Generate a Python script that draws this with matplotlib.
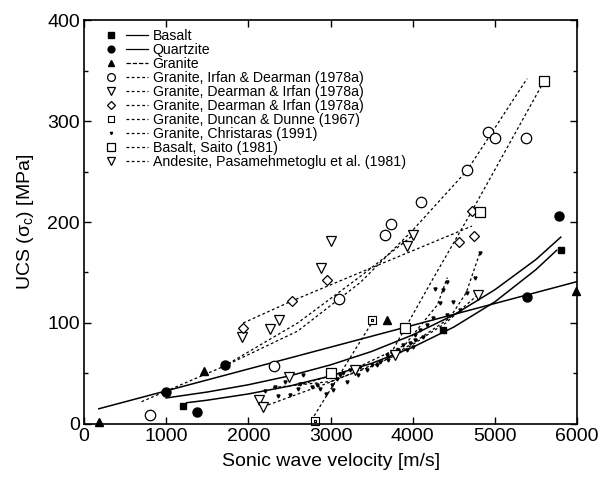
import matplotlib
matplotlib.use("Agg")
import matplotlib.pyplot as plt
from matplotlib.lines import Line2D
from matplotlib.legend_handler import HandlerTuple
from matplotlib.markers import MarkerStyle
from matplotlib.path import Path
from matplotlib.ticker import MultipleLocator

plt.rcParams['font.family'] = ['Liberation Sans', 'DejaVu Sans']
plt.rcParams['mathtext.fontset'] = 'custom'
plt.rcParams['mathtext.rm'] = 'Liberation Sans'

# --- data (velocity m/s, UCS MPa) ---
basalt_v = [1200, 4370, 5800]
basalt_ucs = [18, 93, 172]
quartzite_v = [1000, 1370, 1710, 5390, 5780]
quartzite_ucs = [32, 12, 58, 126, 206]
granite_v = [180, 1460, 3690, 5990]
granite_ucs = [2, 52, 103, 132]

# fitted curves
basalt_fit_v = [1250, 1500, 2000, 2500, 3000, 3500, 4000, 4500, 5000, 5500, 5750]
basalt_fit_ucs = [21, 23.5, 29.7, 37.5, 47.5, 60, 76, 96, 121, 153, 172]
quartzite_fit_v = [1000, 1500, 2000, 2500, 3000, 3500, 4000, 4500, 5000, 5500, 5800]
quartzite_fit_ucs = [25.7, 31.6, 38.8, 47.6, 58.5, 71.8, 88.2, 108, 133, 163, 185]
granite_fit_v = [180, 6000]
granite_fit_ucs = [15, 141]

irfan_v = [800, 2310, 3100, 3660, 3735, 4100, 4660, 4915, 5000, 5380]
irfan_ucs = [9, 57, 124, 187, 198, 220, 252, 289, 283, 283]
irfan_line_v = [700, 1700, 2600, 3360, 4000, 4660, 5390]
irfan_line_ucs = [22, 57, 92, 140, 192, 251, 342]

dearman_tri_v = [1920, 2260, 2370, 2880, 3005, 3930, 4000]
dearman_tri_ucs = [86, 94, 103, 154, 181, 176, 187]
dearman_tri_line_v = [1700, 2600, 3360, 3990]
dearman_tri_line_ucs = [57, 100, 146, 186]

diamond_v = [1937, 2535, 2960, 4560, 4746, 4722]
diamond_ucs = [95, 122, 143, 180, 186, 211]
diamond_line_v = [1937, 2535, 3360, 4720]
diamond_line_ucs = [100, 122, 150, 196]

duncan_v = [2810, 3500]
duncan_ucs = [3, 103]
duncan_line_v = [2800, 3500]
duncan_line_ucs = [8, 100]

christaras_v = [2323, 2360, 2506, 2628, 2664, 2603, 2773, 2835, 2871, 3017,
                3029, 3078, 3114, 3151, 3236, 3297, 3333, 3358, 3443, 3503,
                3564, 3600, 3686, 3747, 3820, 3880, 3929, 3965, 4027, 4002,
                4818, 4416, 4368, 4270, 4330, 4660, 4757, 4489, 4574, 4246,
                4416, 4173, 4088, 4027, 4124, 2200, 2450, 2950, 3200, 3700]
christaras_ucs = [37, 28, 29, 40, 48, 35, 37, 39, 35, 39,
                  34, 44, 48, 50, 53, 55, 48, 56, 53, 58,
                  58, 61, 68, 70, 73, 78, 73, 80, 83, 76,
                  169, 141, 133, 134, 120, 130, 145, 121, 113, 105,
                  108, 98, 93, 88, 86, 33, 42, 30, 42, 63]
christaras_line1_v = [2300, 3000, 3600, 4000, 4450, 4650, 4818]
christaras_line1_ucs = [36, 42, 60, 80, 105, 130, 170]
christaras_line2_v = [2600, 3300, 3900, 4300, 4420]
christaras_line2_ucs = [38, 55, 78, 118, 145]

saito_v = [3000, 3905, 4818, 5600]
saito_ucs = [50, 95, 210, 340]
saito_line_v = [3700, 4240, 4720, 5600]
saito_line_ucs = [65, 143, 211, 340]

andesite_v = [2130, 2180, 2494, 3297, 3783, 4793]
andesite_ucs = [24, 17, 46, 53, 68, 128]
andesite_line_v = [2180, 2950, 3800, 4400, 4793]
andesite_line_ucs = [17, 40, 68, 100, 128]

labels = ['Basalt', 'Quartzite', 'Granite',
          'Granite, Irfan & Dearman (1978a)',
          'Granite, Dearman & Irfan (1978a)',
          'Granite, Dearman & Irfan (1978a)',
          'Granite, Duncan & Dunne (1967)',
          'Granite, Christaras (1991)',
          'Basalt, Saito (1981)',
          'Andesite, Pasamehmetoglu et al. (1981)']

# square with a dot inside
dot_square = Path([(-1, -1), (1, -1), (1, 1), (-1, 1), (-1, -1),
                   (-0.15, -0.15), (0.15, -0.15), (0.15, 0.15), (-0.15, 0.15), (-0.15, -0.15)],
                  [Path.MOVETO, Path.LINETO, Path.LINETO, Path.LINETO, Path.CLOSEPOLY,
                   Path.MOVETO, Path.LINETO, Path.LINETO, Path.LINETO, Path.CLOSEPOLY])

dots = (0, (2.2, 2.0))
lw = 0.9
k = 'black'

fig = plt.figure(figsize=(6.0, 4.79), dpi=100)
ax = fig.add_axes([0.14, 0.115, 0.822, 0.843])

# fit curves
ax.plot(basalt_fit_v, basalt_fit_ucs, color=k, lw=1.1)
ax.plot(quartzite_fit_v, quartzite_fit_ucs, color=k, lw=1.1)
ax.plot(granite_fit_v, granite_fit_ucs, color=k, lw=1.1)

for xs, ys in [(irfan_line_v, irfan_line_ucs), (dearman_tri_line_v, dearman_tri_line_ucs),
               (diamond_line_v, diamond_line_ucs), (duncan_line_v, duncan_line_ucs),
               (christaras_line1_v, christaras_line1_ucs), (christaras_line2_v, christaras_line2_ucs),
               (saito_line_v, saito_line_ucs), (andesite_line_v, andesite_line_ucs)]:
    ax.plot(xs, ys, color=k, lw=lw, ls=dots)

# markers
styles = [
    dict(marker='s', ms=5, mfc=k, mec=k),
    dict(marker='o', ms=6.5, mfc=k, mec=k),
    dict(marker='^', ms=6, mfc=k, mec=k),
    dict(marker='o', ms=7.5, mfc='white', mec=k, mew=0.9),
    dict(marker='v', ms=7, mfc='white', mec=k, mew=0.9),
    dict(marker='D', ms=5.5, mfc='white', mec=k, mew=0.9),
    dict(marker=MarkerStyle(dot_square), ms=6, mfc='none', mec=k, mew=0.8),
    dict(marker='v', ms=2.2, mfc=k, mec=k),
    dict(marker='s', ms=7, mfc='white', mec=k, mew=0.9),
    dict(marker='v', ms=7, mfc='white', mec=k, mew=0.9),
]
series = [(basalt_v, basalt_ucs), (quartzite_v, quartzite_ucs), (granite_v, granite_ucs),
          (irfan_v, irfan_ucs), (dearman_tri_v, dearman_tri_ucs), (diamond_v, diamond_ucs),
          (duncan_v, duncan_ucs), (christaras_v, christaras_ucs), (saito_v, saito_ucs),
          (andesite_v, andesite_ucs)]
for (xs, ys), st in zip(series, styles):
    ax.plot(xs, ys, ls='none', clip_on=False, zorder=4, **st)

# legend: symbol then line sample
line_styles = ['-', '-', (0, (3.5, 1.5))] + [dots] * 7
handles = []
for st, lsty in zip(styles, line_styles):
    st2 = dict(st)
    st2['ms'] = st['ms'] * 0.75
    mk = Line2D([], [], ls='none', **st2)
    ln = Line2D([], [], color=k, lw=lw, ls=lsty)
    handles.append((mk, ln))
ax.legend(handles, labels, handler_map={tuple: HandlerTuple(ndivide=None, pad=0.2)},
          loc='upper left', bbox_to_anchor=(0.014, 1.0), frameon=False,
          fontsize=10.2, handlelength=3.4, handletextpad=0.3, labelspacing=0.0,
          borderaxespad=0.25)

ax.set_xlim(0, 6000)
ax.set_ylim(0, 400)
ax.xaxis.set_major_locator(MultipleLocator(1000))
ax.yaxis.set_major_locator(MultipleLocator(100))
ax.yaxis.set_minor_locator(MultipleLocator(50))
ax.tick_params(which='both', direction='in', top=True, right=True, labelsize=14, width=1)
ax.tick_params(which='major', length=5, pad=3)
ax.tick_params(which='minor', length=3)
for s in ax.spines.values():
    s.set_linewidth(1.2)

ax.set_xlabel('Sonic wave velocity [m/s]', fontsize=14, labelpad=6)
ax.set_ylabel('UCS (σ$_\\mathrm{c}$) [MPa]', fontsize=14, labelpad=8)

fig.savefig('out.png', dpi=100)
